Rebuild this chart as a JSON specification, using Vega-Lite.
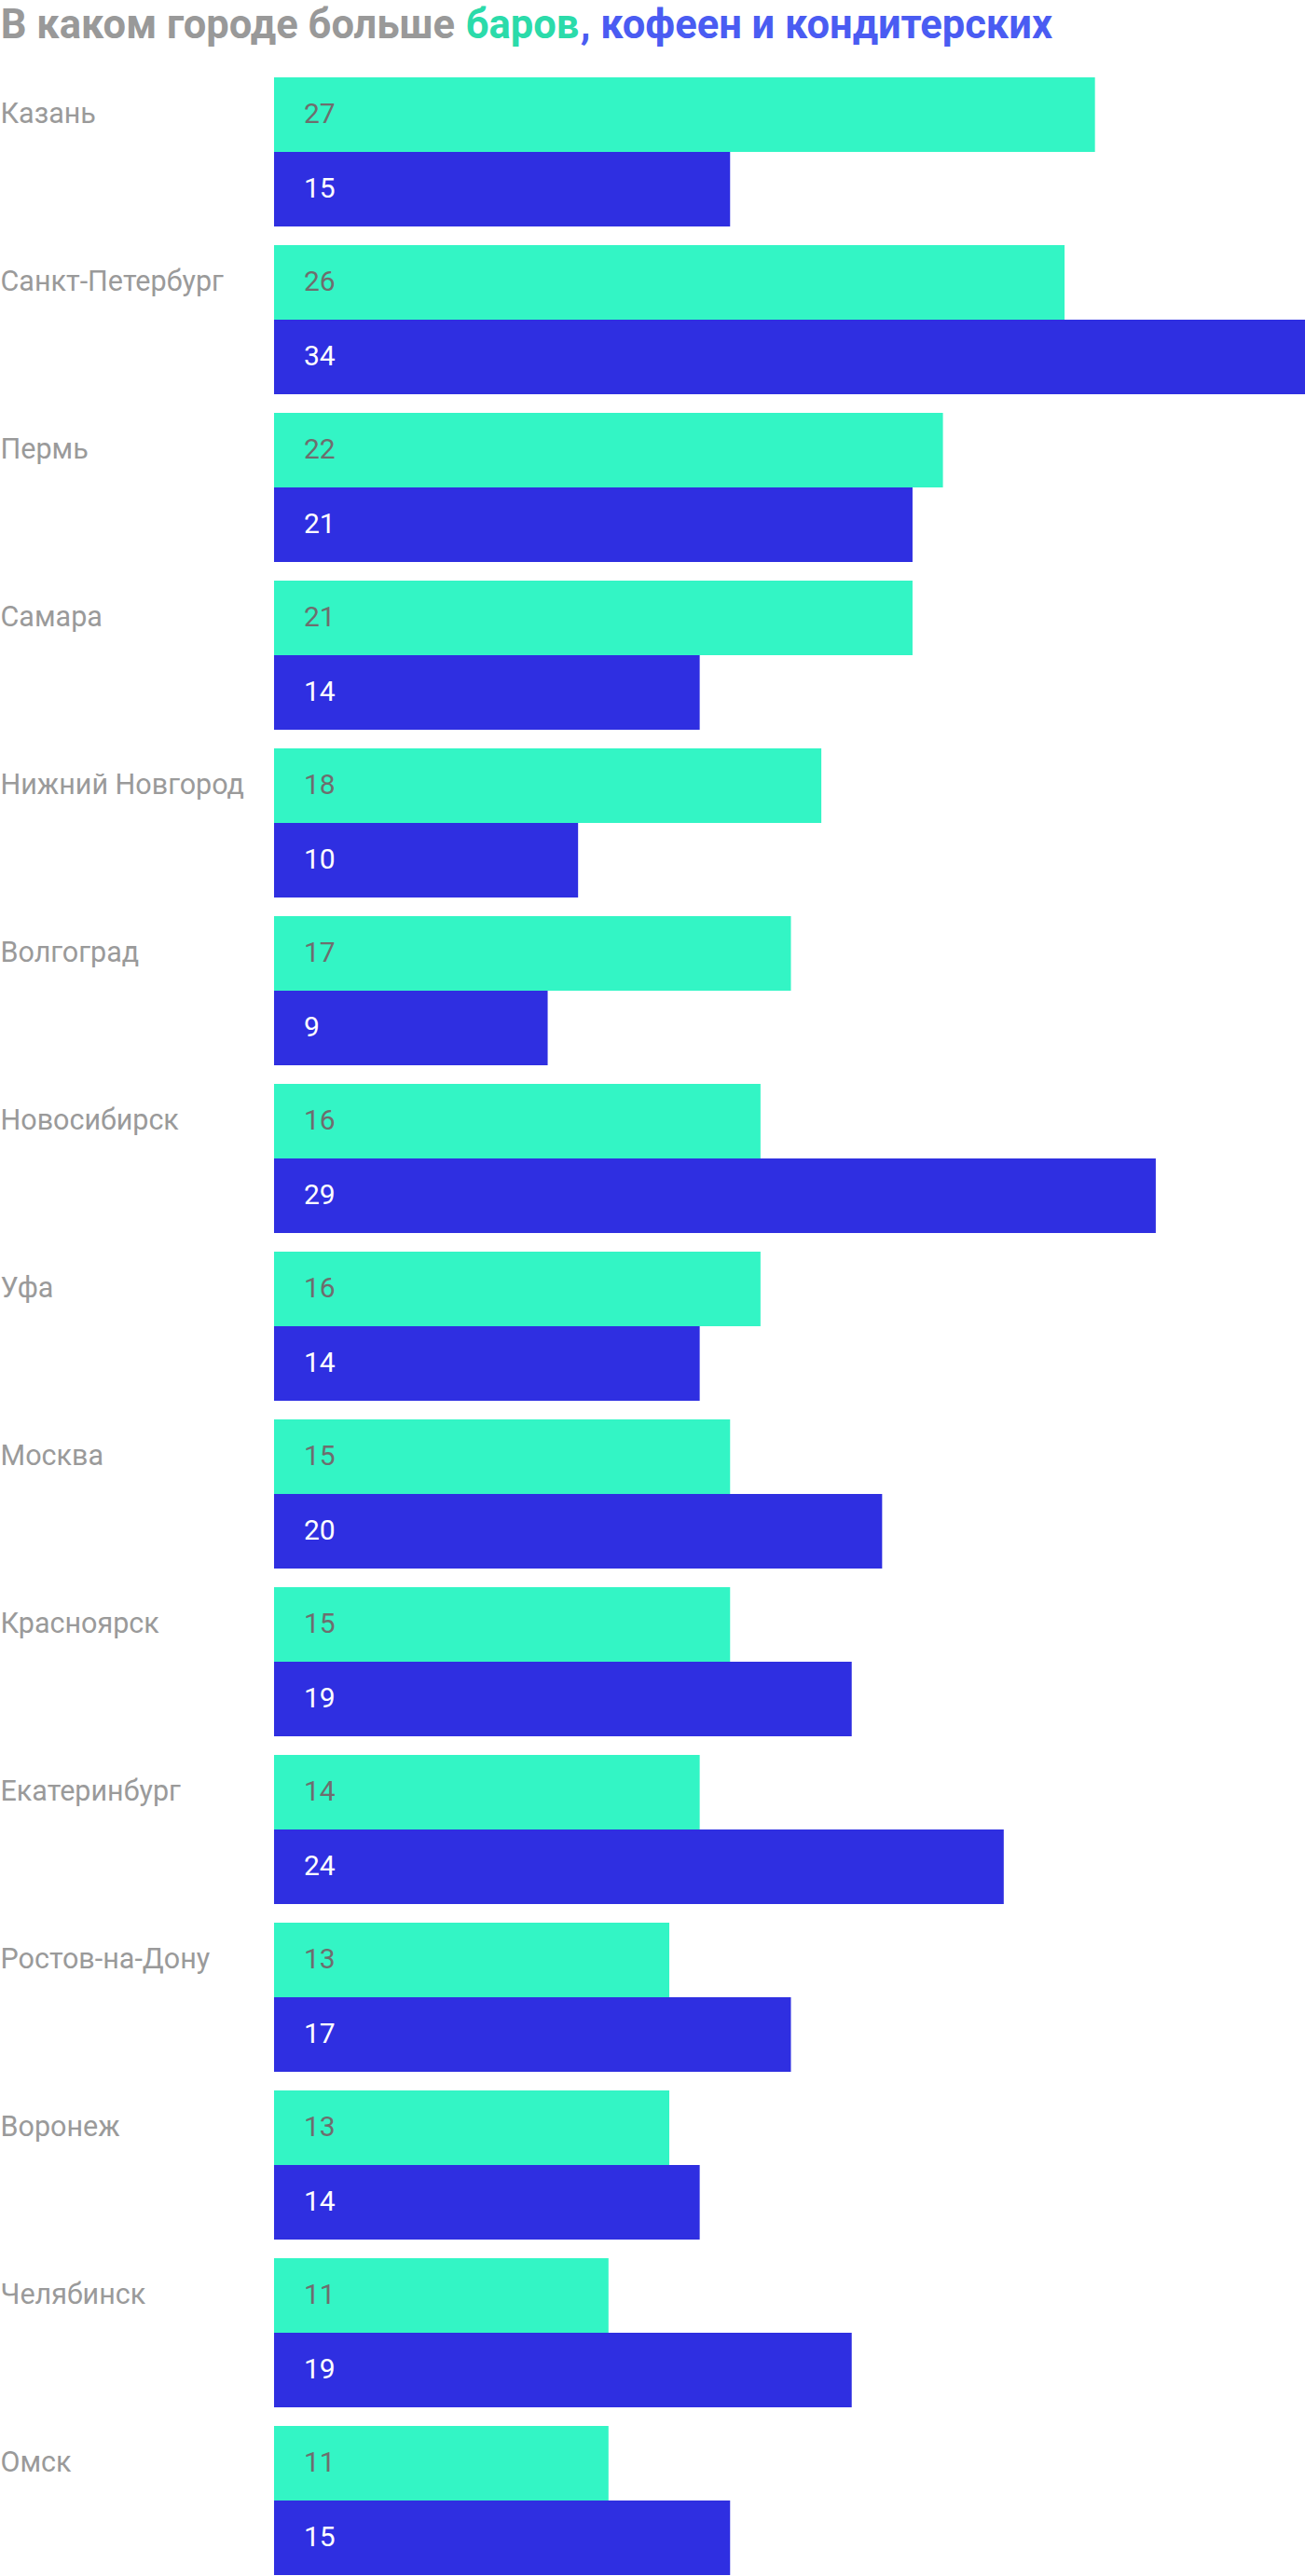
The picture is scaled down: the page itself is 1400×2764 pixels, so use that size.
{
  "$schema": "https://vega.github.io/schema/vega-lite/v6.json",
  "padding": 0,
  "background": "white",
  "config": {"view": {"stroke": null}, "font": "Roboto"},
  "spacing": 33,
  "vconcat": [
    {
      "spacing": 10,
      "hconcat": [
        {
          "title": {"text": "В каком городе больше", "color": "#999999", "fontSize": 43.5, "fontWeight": "bold", "font": "Roboto", "anchor": "start", "orient": "bottom", "offset": 1, "baseline": "top"},
          "width": 1, "height": 1,
          "data": {"values": [{}]},
          "mark": {"type": "point", "opacity": 0},
          "encoding": {}
        },
        {
          "spacing": 0,
          "hconcat": [
            {
              "title": {"text": "баров", "color": "#2BDBAA", "fontSize": 43.5, "fontWeight": "bold", "font": "Roboto", "anchor": "start", "orient": "bottom", "offset": 1, "baseline": "top"},
              "width": 1, "height": 1,
              "data": {"values": [{}]},
              "mark": {"type": "point", "opacity": 0},
              "encoding": {}
            },
            {
              "title": {"text": ", кофеен и кондитерских", "color": "#4A5CF2", "fontSize": 43.5, "fontWeight": "bold", "font": "Roboto", "anchor": "start", "orient": "bottom", "offset": 1, "baseline": "top"},
              "width": 1, "height": 1,
              "data": {"values": [{}]},
              "mark": {"type": "point", "opacity": 0},
              "encoding": {}
            }
          ]
        }
      ]
    },
    {
      "width": 1400,
      "height": 2680,
      "data": {"values": [
        {"city": "Казань", "type": "бары", "value": 27},
        {"city": "Казань", "type": "кофейни и кондитерские", "value": 15},
        {"city": "Санкт-Петербург", "type": "бары", "value": 26},
        {"city": "Санкт-Петербург", "type": "кофейни и кондитерские", "value": 34},
        {"city": "Пермь", "type": "бары", "value": 22},
        {"city": "Пермь", "type": "кофейни и кондитерские", "value": 21},
        {"city": "Самара", "type": "бары", "value": 21},
        {"city": "Самара", "type": "кофейни и кондитерские", "value": 14},
        {"city": "Нижний Новгород", "type": "бары", "value": 18},
        {"city": "Нижний Новгород", "type": "кофейни и кондитерские", "value": 10},
        {"city": "Волгоград", "type": "бары", "value": 17},
        {"city": "Волгоград", "type": "кофейни и кондитерские", "value": 9},
        {"city": "Новосибирск", "type": "бары", "value": 16},
        {"city": "Новосибирск", "type": "кофейни и кондитерские", "value": 29},
        {"city": "Уфа", "type": "бары", "value": 16},
        {"city": "Уфа", "type": "кофейни и кондитерские", "value": 14},
        {"city": "Москва", "type": "бары", "value": 15},
        {"city": "Москва", "type": "кофейни и кондитерские", "value": 20},
        {"city": "Красноярск", "type": "бары", "value": 15},
        {"city": "Красноярск", "type": "кофейни и кондитерские", "value": 19},
        {"city": "Екатеринбург", "type": "бары", "value": 14},
        {"city": "Екатеринбург", "type": "кофейни и кондитерские", "value": 24},
        {"city": "Ростов-на-Дону", "type": "бары", "value": 13},
        {"city": "Ростов-на-Дону", "type": "кофейни и кондитерские", "value": 17},
        {"city": "Воронеж", "type": "бары", "value": 13},
        {"city": "Воронеж", "type": "кофейни и кондитерские", "value": 14},
        {"city": "Челябинск", "type": "бары", "value": 11},
        {"city": "Челябинск", "type": "кофейни и кондитерские", "value": 19},
        {"city": "Омск", "type": "бары", "value": 11},
        {"city": "Омск", "type": "кофейни и кондитерские", "value": 15}
      ]},
      "encoding": {
        "y": {
          "field": "city", "type": "nominal", "sort": null,
          "scale": {"paddingInner": 0.1111, "paddingOuter": 0},
          "axis": {"title": null, "domain": false, "ticks": false, "labelAlign": "left", "labelPadding": 3, "labelOffset": -40, "labelBaseline": "middle", "labelFontSize": 30.5, "labelColor": "#9A9A9A", "labelFont": "Roboto", "labelLimit": 292}
        },
        "yOffset": {"field": "type", "type": "nominal", "sort": ["бары", "кофейни и кондитерские"], "scale": {"paddingInner": 0, "paddingOuter": 0}}
      },
      "layer": [
        {
          "mark": {"type": "bar"},
          "encoding": {
            "x": {"field": "value", "type": "quantitative", "scale": {"domain": [-8.921, 34], "nice": false, "zero": false}, "axis": null},
            "color": {"field": "type", "type": "nominal", "scale": {"domain": ["бары", "кофейни и кондитерские"], "range": ["#33F5C5", "#2F2FE1"]}, "legend": null}
          }
        },
        {
          "mark": {"type": "text", "align": "left", "baseline": "middle", "dx": 32, "fontSize": 30, "font": "Roboto"},
          "encoding": {
            "x": {"datum": 0, "type": "quantitative"},
            "text": {"field": "value", "type": "quantitative"},
            "color": {"condition": {"test": "datum.type === 'бары'", "value": "#6E6E6E"}, "value": "#FFFFFF"}
          }
        }
      ]
    }
  ]
}
